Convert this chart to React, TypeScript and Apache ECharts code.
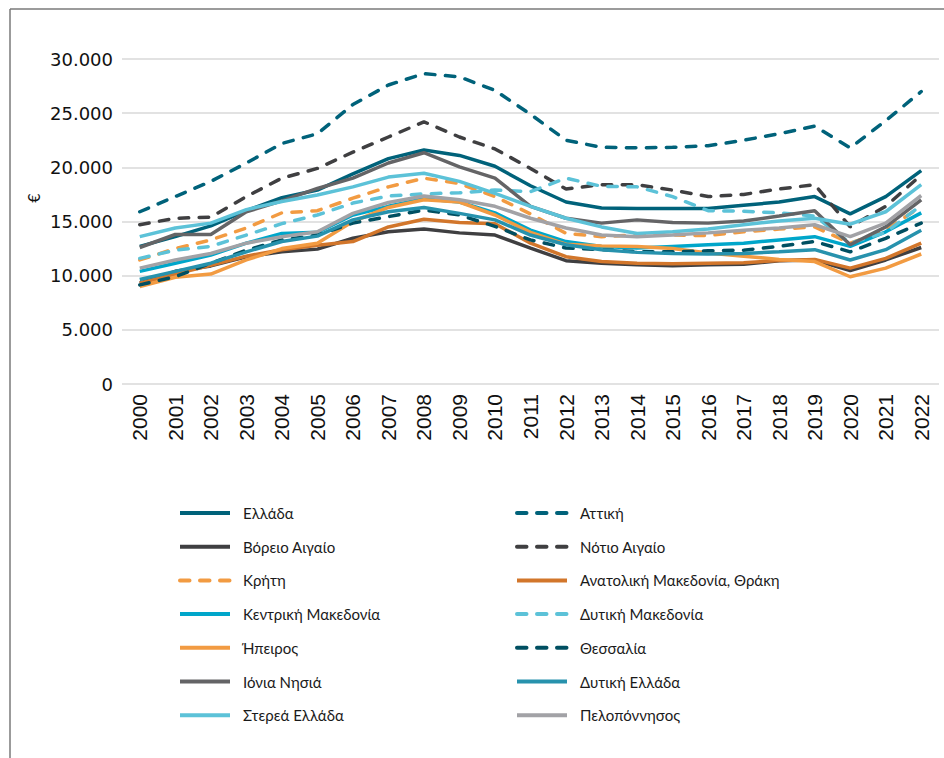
import React, { useEffect, useRef } from "react";
import * as echarts from "echarts";

const years = ["2000","2001","2002","2003","2004","2005","2006","2007","2008","2009","2010","2011","2012","2013","2014","2015","2016","2017","2018","2019","2020","2021","2022"];
const yTicks = [0, 5000, 10000, 15000, 20000, 25000, 30000];

const ellada = [12700,13600,14600,16000,17200,17900,19400,20800,21600,21100,20100,18300,16800,16250,16200,16200,16200,16500,16800,17300,15700,17300,19700];
const attiki = [15900,17300,18700,20400,22200,23100,25800,27600,28650,28350,27100,24900,22500,21850,21800,21850,22000,22500,23100,23800,21800,24300,27000];
const voreioAigaio = [9300,10400,10900,11750,12200,12450,13450,14050,14300,13950,13750,12550,11380,11150,11000,10920,11000,11050,11380,11450,10460,11450,12600];
const notioAigaio = [14700,15300,15400,17300,19000,19900,21400,22800,24200,22800,21700,19900,18000,18400,18400,17900,17300,17500,18000,18400,14500,16400,19300];
const kriti = [11450,12500,13300,14400,15800,16000,17150,18200,19000,18500,17300,15700,13900,13600,13750,13750,13700,14050,14300,14500,13000,14200,16400];
const amth = [9300,10150,10950,11800,12400,12800,13150,14500,15200,14900,14800,13000,11750,11300,11150,11100,11150,11200,11400,11500,10700,11600,13000];
const kentrikiMak = [10400,11150,11900,13000,13900,14000,15600,16400,17100,16800,15800,14200,13150,12700,12550,12700,12850,13000,13300,13600,12700,14050,15800];
const dytikiMak = [11600,12350,12700,13750,14800,15600,16700,17350,17550,17650,17900,17750,19000,18250,18200,17300,16000,15950,15800,15500,13000,14000,16500];
const ipeiros = [9000,9850,10150,11450,12500,13000,15000,16300,17000,16800,15600,14000,12900,12750,12700,12500,12100,11800,11500,11300,9900,10700,12000];
const thessalia = [9150,9900,11150,12350,13300,13750,14850,15450,16050,15600,14550,13300,12550,12400,12200,12200,12300,12350,12700,13150,12200,13450,14850];
const ioniaNisia = [12600,13800,13800,15900,16900,18050,19000,20400,21350,20050,19000,16400,15300,14850,15150,14900,14850,15050,15500,16000,12850,14500,17000];
const dytikiEllada = [9650,10400,11150,12200,13150,13650,15150,15900,16300,15750,15150,13750,12850,12400,12150,12050,12000,12050,12200,12400,11450,12400,14200];
const stereaEllada = [13600,14400,14850,16100,16850,17450,18200,19100,19450,18700,17600,16400,15300,14500,13900,14050,14300,14700,15050,15300,14750,15900,18400];
const peloponnisos = [10700,11450,12050,13000,13600,14050,15750,16750,17350,17000,16400,15300,14400,13750,13600,13750,13950,14200,14400,14700,13600,14850,17400];

type S = { name: string; data: number[]; color: string; dashed: boolean };

const seriesDefs: S[] = [
  { name: "Ελλάδα", data: ellada, color: "#00627A", dashed: false },
  { name: "Αττική", data: attiki, color: "#00627A", dashed: true },
  { name: "Βόρειο Αιγαίο", data: voreioAigaio, color: "#3F3F41", dashed: false },
  { name: "Νότιο Αιγαίο", data: notioAigaio, color: "#3F3F41", dashed: true },
  { name: "Κρήτη", data: kriti, color: "#F29B42", dashed: true },
  { name: "Ανατολική Μακεδονία, Θράκη", data: amth, color: "#D2762B", dashed: false },
  { name: "Κεντρική Μακεδονία", data: kentrikiMak, color: "#00A6CA", dashed: false },
  { name: "Δυτική Μακεδονία", data: dytikiMak, color: "#5CC2D8", dashed: true },
  { name: "Ήπειρος", data: ipeiros, color: "#F29B42", dashed: false },
  { name: "Θεσσαλία", data: thessalia, color: "#004F61", dashed: true },
  { name: "Ιόνια Νησιά", data: ioniaNisia, color: "#646466", dashed: false },
  { name: "Δυτική Ελλάδα", data: dytikiEllada, color: "#2792AD", dashed: false },
  { name: "Στερεά Ελλάδα", data: stereaEllada, color: "#5CC2D8", dashed: false },
  { name: "Πελοπόννησος", data: peloponnisos, color: "#A2A2A6", dashed: false },
];

const leftLegend = ["Ελλάδα", "Βόρειο Αιγαίο", "Κρήτη", "Κεντρική Μακεδονία", "Ήπειρος", "Ιόνια Νησιά", "Στερεά Ελλάδα"];
const rightLegend = ["Αττική", "Νότιο Αιγαίο", "Ανατολική Μακεδονία, Θράκη", "Δυτική Μακεδονία", "Θεσσαλία", "Δυτική Ελλάδα", "Πελοπόννησος"];

function fmt(v: number): string {
  return String(v).replace(/\B(?=(\d{3})+(?!\d))/g, ".");
}

export default function App() {
  const ref = useRef<HTMLDivElement>(null);
  useEffect(() => {
    if (!ref.current) return;
    const chart = echarts.init(ref.current, null, { renderer: "svg" });
    const legendBase = {
      orient: "vertical" as const,
      top: 503,
      padding: 0,
      itemWidth: 50,
      itemHeight: 14,
      itemGap: 13.7,
      itemStyle: { opacity: 0, borderWidth: 0 },
      lineStyle: { width: 4 },
      textStyle: { fontFamily: "Lato", fontSize: 15, color: "#1a1a1a", lineHeight: 20, padding: [0, 0, 0, 8] },
    };
    chart.setOption({
      animation: false,
      backgroundColor: "#ffffff",
      grid: { left: 122, right: 5, top: 59, bottom: 374, containLabel: false },
      legend: [
        { ...legendBase, left: 178, data: leftLegend },
        { ...legendBase, left: 515, data: rightLegend },
      ],
      xAxis: {
        type: "category",
        data: years,
        boundaryGap: true,
        axisLine: { show: false },
        axisTick: { show: false },
        axisLabel: { rotate: 90, margin: 10, fontFamily: "Liberation Sans", fontSize: 21, color: "#111" },
      },
      yAxis: {
        type: "value",
        min: yTicks[0],
        max: yTicks[yTicks.length - 1],
        interval: 5000,
        axisLine: { show: false },
        axisTick: { show: false },
        splitLine: { lineStyle: { color: "#D9D9D9", width: 1.5 } },
        axisLabel: { formatter: (v: number) => fmt(v), margin: 9, fontFamily: "DejaVu Sans", fontSize: 18, color: "#111" },
      },
      graphic: [
        { type: "line", shape: { x1: 10, y1: 9, x2: 944, y2: 9 }, style: { stroke: "#7a7a7a", lineWidth: 1.5 } },
        { type: "line", shape: { x1: 10, y1: 9, x2: 10, y2: 758 }, style: { stroke: "#7a7a7a", lineWidth: 1.5 } },
        { type: "text", x: 35, y: 198, rotation: Math.PI / 2, style: { text: "€", fontFamily: "DejaVu Sans", fontSize: 15, fill: "#111", align: "center", verticalAlign: "middle" } },
      ],
      series: seriesDefs.map((s) => ({
        name: s.name,
        type: "line",
        data: s.data,
        symbol: "none",
        smooth: false,
        color: s.color,
        lineStyle: {
          color: s.color,
          width: 3.5,
          type: s.dashed ? [9.5, 10.5] : "solid",
          cap: s.dashed ? "round" : "butt",
        },
      })),
    });
    return () => chart.dispose();
  }, []);
  return <div ref={ref} style={{ position: "fixed", left: 0, top: 0, width: 944, height: 758 }} />;
}
